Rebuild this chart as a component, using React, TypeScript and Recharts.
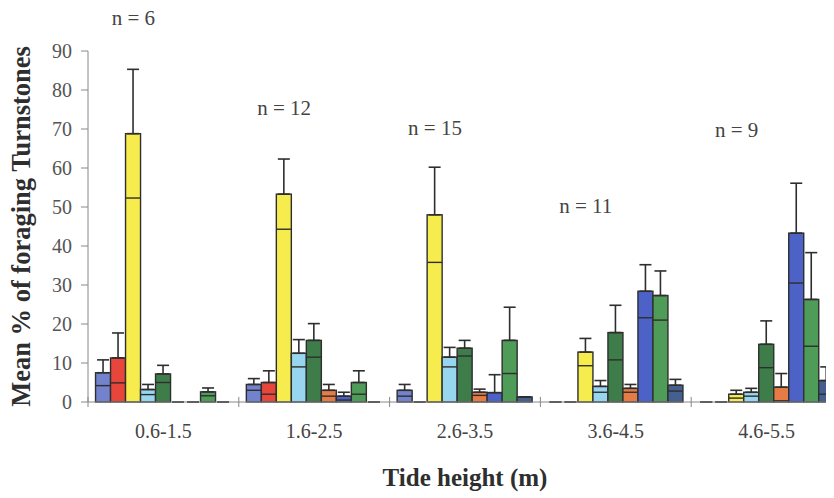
import { Bar, BarChart, ErrorBar, ReferenceDot, ReferenceLine, XAxis, YAxis } from "recharts"

const tideClasses = ["0.6-1.5", "1.6-2.5", "2.6-3.5", "3.6-4.5", "4.6-5.5"]
const sampleSizes = ["n = 6", "n = 12", "n = 15", "n = 11", "n = 9"]
// height (in % units) where each "n = " note sits
const sampleLabelAt = [98.4, 75.3, 70.2, 50.2, 69.7]
const yTicks = [0, 10, 20, 30, 40, 50, 60, 70, 80, 90]

// mean % and standard error, one pair per bar colour
const slateMean = [7.5, 4.5, 3, 0, 0]
const slateSe = [3.3, 1.5, 1.5, 0, 0]
const redMean = [11.3, 5, 0, 0, 0]
const redSe = [6.4, 3, 0, 0, 0]
const yellowMean = [68.8, 53.3, 48, 12.8, 2]
const yellowSe = [16.5, 9, 12.2, 3.5, 1]
const paleBlueMean = [3.2, 12.5, 11.5, 4, 2.5]
const paleBlueSe = [1.3, 3.5, 2.5, 1.5, 1]
const darkGreenMean = [7.2, 15.8, 13.8, 17.8, 14.8]
const darkGreenSe = [2.2, 4.3, 2, 7, 6]
const orangeMean = [0, 3, 2.5, 3.5, 3.8]
const orangeSe = [0, 1.5, 0.8, 1, 3.5]
const blueMean = [0, 1.5, 2.4, 28.4, 43.3]
const blueSe = [0, 1, 4.6, 6.8, 12.8]
const greenMean = [2.6, 5, 15.8, 27.3, 26.3]
const greenSe = [1, 3, 8.5, 6.3, 12]
const navyMean = [0, 0, 1.3, 4.3, 5.5]
const navySe = [0, 0, 0, 1.5, 3.5]

const series = [
  { key: "slate", mean: slateMean, se: slateSe, color: "#7282cc" },
  { key: "red", mean: redMean, se: redSe, color: "#e8463b" },
  { key: "yellow", mean: yellowMean, se: yellowSe, color: "#f7ec4e" },
  { key: "paleBlue", mean: paleBlueMean, se: paleBlueSe, color: "#98d6f0" },
  { key: "darkGreen", mean: darkGreenMean, se: darkGreenSe, color: "#3e7d4a" },
  { key: "orange", mean: orangeMean, se: orangeSe, color: "#e67c45" },
  { key: "blue", mean: blueMean, se: blueSe, color: "#4d62c6" },
  { key: "green", mean: greenMean, se: greenSe, color: "#4f9c58" },
  { key: "navy", mean: navyMean, se: navySe, color: "#45608f" },
]

const data = tideClasses.map((tide, i) => {
  const row: Record<string, any> = { tide }
  series.forEach((s) => {
    row[s.key] = s.mean[i]
    row[s.key + "Se"] = s.se[i]
    row[s.key + "Up"] = [0, s.se[i]]
  })
  return row
})

const serif = '"Liberation Serif", "Times New Roman", serif'
const ink = "#2e2e2e"

// bar with the lower standard-error line drawn across it
const seBar = (key: string, color: string) => (props: any) => {
  const { x, y, width, height, payload, value } = props
  if (!height || height <= 0) return <g />
  const v = Array.isArray(value) ? value[1] - value[0] : value
  const se = payload[key + "Se"]
  const inner = se > 0 && se < v ? y + (height * se) / v : null
  return (
    <g>
      <rect x={x} y={y} width={width} height={height} fill={color} stroke={ink} strokeWidth={1.4} />
      {inner != null && (
        <line x1={x} x2={x + width} y1={inner} y2={inner} stroke={ink} strokeWidth={1.4} />
      )}
    </g>
  )
}

const nNote = (text: string) => (props: any) => {
  const vb = props.viewBox || {}
  return (
    <text
      x={vb.x + (vb.width || 0) / 2 - 30}
      y={vb.y + (vb.height || 0) / 2}
      textAnchor="middle"
      dominantBaseline="central"
      fontFamily={serif}
      fontSize={21}
      fill="#444"
    >
      {text}
    </text>
  )
}

export default function App() {
  return (
    <div style={{ width: 834, height: 498, margin: "-8px 0 0 -8px", overflow: "hidden", background: "#fff" }}>
      <BarChart
        width={842}
        height={498}
        data={data}
        margin={{ top: 51, right: 0, left: 0, bottom: 0 }}
        barCategoryGap="5%"
        barGap={0}
      >
        <XAxis
          dataKey="tide"
          height={96}
          tickLine={false}
          tickSize={0}
          tickMargin={22}
          stroke="#888"
          tick={{ fontFamily: serif, fontSize: 20, fill: "#444" }}
          label={{
            value: "Tide height (m)",
            position: "insideBottom",
            offset: 12,
            style: { fontFamily: serif, fontSize: 25, fontWeight: "bold", fill: ink },
          }}
        />
        <YAxis
          width={88}
          domain={[0, 90]}
          ticks={yTicks}
          tickSize={7}
          tickMargin={9}
          stroke="#888"
          tick={{ fontFamily: serif, fontSize: 20, fill: "#555" }}
          label={{
            value: "Mean % of foraging Turnstones",
            angle: -90,
            position: "insideLeft",
            offset: 21,
            style: { textAnchor: "middle", fontFamily: serif, fontSize: 26.5, fontWeight: "bold", fill: ink },
          }}
        />
        {tideClasses.map((t) => (
          <ReferenceLine
            key={"sep" + t}
            segment={[
              { x: t, y: -1.3 },
              { x: t, y: 1.3 },
            ]}
            position="start"
            ifOverflow="visible"
            stroke="#888"
          />
        ))}
        {series.map((s) => (
          <Bar key={s.key} dataKey={s.key} fill={s.color} isAnimationActive={false} shape={seBar(s.key, s.color)}>
            <ErrorBar dataKey={s.key + "Up"} width={6} stroke={ink} strokeWidth={1.6} direction="y" />
          </Bar>
        ))}
        {tideClasses.map((t, i) => (
          <ReferenceDot
            key={t}
            x={t}
            y={sampleLabelAt[i]}
            r={0}
            ifOverflow="visible"
            fill="none"
            stroke="none"
            label={nNote(sampleSizes[i])}
          />
        ))}
      </BarChart>
    </div>
  )
}
